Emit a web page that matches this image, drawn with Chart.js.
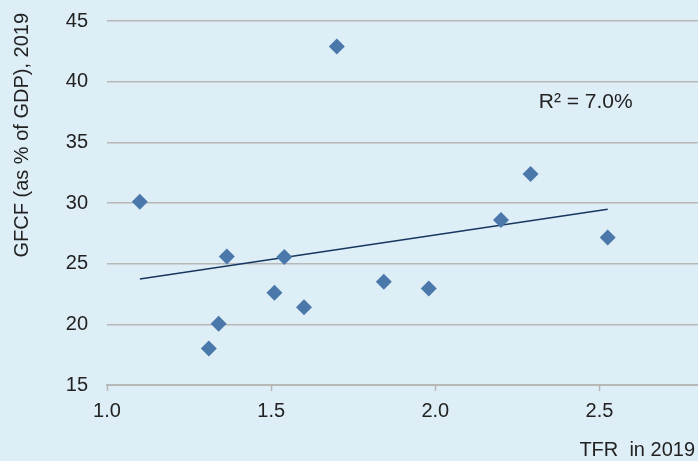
<!DOCTYPE html>
<html>
<head>
<meta charset="utf-8">
<script src="https://cdn.jsdelivr.net/npm/chart.js@4.4.1/dist/chart.umd.min.js"></script>
<style>
  html, body { margin: 0; padding: 0; background: #deeef7; }
  canvas { display: block; }
</style>
</head>
<body>
<canvas id="chart" width="698" height="461"></canvas>
<script>
// Total fertility rate vs gross fixed capital formation, 2019
const tfr  = [1.10, 1.31, 1.34, 1.365, 1.51, 1.54, 1.60, 1.70, 1.843, 1.98, 2.20, 2.29, 2.525];
const gfcf = [30.1, 18.0, 20.05, 25.6, 22.6, 25.55, 21.4, 42.9, 23.5, 22.95, 28.6, 32.4, 27.15];
const xTicks = [1.0, 1.5, 2.0, 2.5];
const yTicks = [15, 20, 25, 30, 35, 40, 45];
const xTitle = 'TFR  in 2019';
const yTitle = 'GFCF (as % of GDP), 2019';
const fitLabel = 'R\u00B2 = 7.0%';

const FONT = '"Liberation Sans", Arial, Helvetica, sans-serif';
const TEXT = '#222222';
const GRID = '#b7b7b7';

// Ordinary least-squares trend line over the observed range
function linearFit(xs, ys) {
  const n = xs.length;
  const mx = xs.reduce((a, b) => a + b, 0) / n;
  const my = ys.reduce((a, b) => a + b, 0) / n;
  let sxy = 0, sxx = 0;
  for (let i = 0; i < n; i++) {
    sxy += (xs[i] - mx) * (ys[i] - my);
    sxx += (xs[i] - mx) * (xs[i] - mx);
  }
  const slope = sxy / sxx;
  return x => my + slope * (x - mx);
}
const fit = linearFit(tfr, gfcf);
const xLo = Math.min(...tfr), xHi = Math.max(...tfr);

const points = tfr.map((x, i) => ({ x: x, y: gfcf[i] }));
const trend = [{ x: xLo, y: fit(xLo) }, { x: xHi, y: fit(xHi) }];

const labelsPlugin = {
  id: 'labels',
  afterDraw(chart) {
    const ctx = chart.ctx;
    const xs = chart.scales.x, ys = chart.scales.y;
    ctx.save();
    ctx.fillStyle = TEXT;
    // R-squared note inside the plot
    ctx.font = '21px ' + FONT;
    ctx.textAlign = 'left';
    ctx.textBaseline = 'middle';
    ctx.fillText(fitLabel, xs.getPixelForValue(2.315), ys.getPixelForValue(38.3));
    // x-axis title, bottom right
    ctx.font = '20px ' + FONT;
    ctx.textAlign = 'right';
    ctx.fillText(xTitle, chart.width - 3, 450);
    // y-axis title, rotated, anchored at the top
    ctx.translate(22, 13);
    ctx.rotate(-Math.PI / 2);
    ctx.textAlign = 'right';
    ctx.textBaseline = 'middle';
    ctx.fillText(yTitle, 0, 0);
    ctx.restore();
  }
};

new Chart(document.getElementById('chart'), {
  type: 'scatter',
  data: {
    datasets: [
      {
        data: points,
        pointStyle: 'rectRot',
        pointRadius: 8,
        pointHoverRadius: 8,
        backgroundColor: '#4a78aa',
        borderColor: '#4a78aa',
        borderWidth: 0
      },
      {
        type: 'line',
        data: trend,
        showLine: true,
        pointRadius: 0,
        borderColor: '#17375e',
        borderWidth: 1.5,
        fill: false
      }
    ]
  },
  options: {
    responsive: false,
    animation: false,
    devicePixelRatio: 1,
    layout: { autoPadding: false, padding: { top: 21, right: 0, bottom: 0, left: 0 } },
    plugins: { legend: { display: false }, tooltip: { enabled: false } },
    scales: {
      x: {
        type: 'linear',
        min: 1.0,
        max: 2.8,
        afterBuildTicks(scale) { scale.ticks = xTicks.map(v => ({ value: v })); },
        afterFit(scale) {
          scale.height = 76;
          scale.paddingLeft = 0;
          scale.paddingRight = 0;
        },
        ticks: {
          color: TEXT,
          font: { size: 20, family: FONT },
          padding: 8,
          callback: v => Number(v).toFixed(1)
        },
        grid: {
          drawOnChartArea: false,
          drawTicks: true,
          tickLength: 6,
          tickColor: GRID,
          tickWidth: 1.5
        },
        border: { display: true, color: GRID, width: 2 }
      },
      y: {
        type: 'linear',
        min: 15,
        max: 45,
        afterBuildTicks(scale) { scale.ticks = yTicks.map(v => ({ value: v })); },
        afterFit(scale) {
          scale.width = 107;
          scale.paddingTop = 0;
          scale.paddingBottom = 0;
        },
        ticks: {
          color: TEXT,
          font: { size: 20, family: FONT },
          padding: 19
        },
        grid: {
          color: GRID,
          lineWidth: 1.5,
          drawTicks: false
        },
        border: { display: false }
      }
    }
  },
  plugins: [labelsPlugin]
});
</script>
</body>
</html>
